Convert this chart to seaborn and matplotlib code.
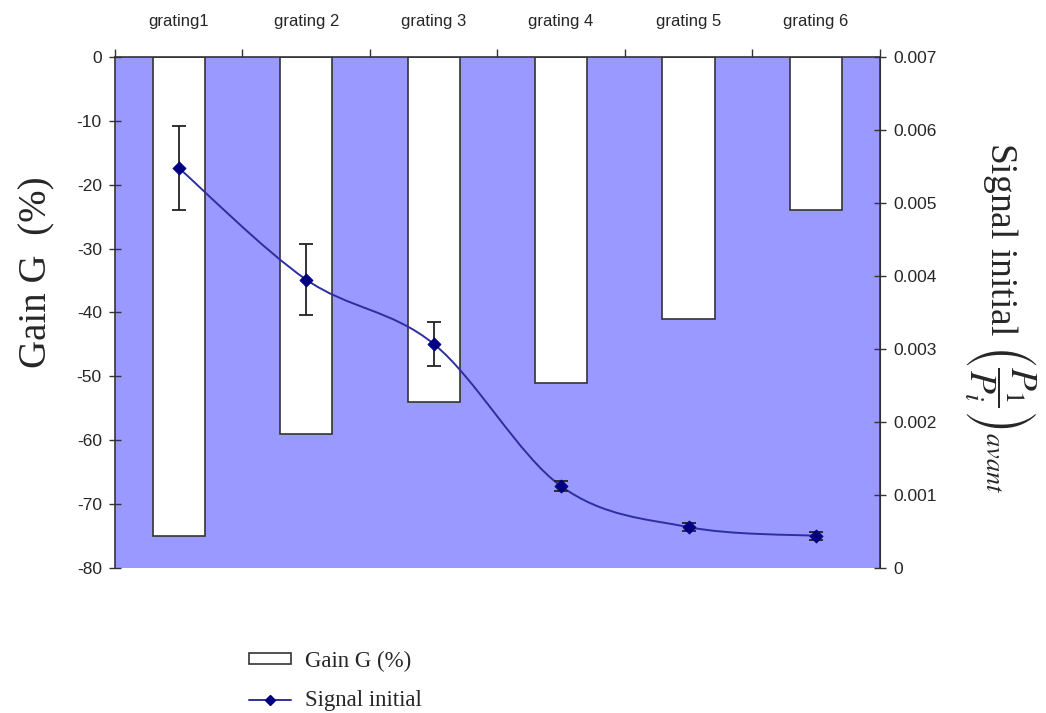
import matplotlib
matplotlib.use("Agg")
import matplotlib.pyplot as plt
import seaborn as sns
import numpy as np
import pandas as pd
from matplotlib.path import Path
from matplotlib.patches import PathPatch, Patch
from matplotlib.lines import Line2D

# data
categories = ["grating1", "grating 2", "grating 3", "grating 4", "grating 5", "grating 6"]
gain = [-75, -59, -54, -51, -41, -24]
signal = [0.00548, 0.00395, 0.00307, 0.00112, 0.00056, 0.00044]
signal_err = [0.00057, 0.00049, 0.00030, 0.00007, 0.00005, 0.00005]

sns.set_style("white")
plt.rcParams["font.family"] = ["Liberation Sans", "DejaVu Sans"]
plt.rcParams["mathtext.fontset"] = "stix"
plt.rcParams["axes.unicode_minus"] = False

fig = plt.figure(figsize=(10.46, 7.13), dpi=100)
ax = fig.add_axes([0.110, 0.2034, 0.731, 0.7167])
ax.set_facecolor("#9999FF")

df = pd.DataFrame({"cat": categories, "gain": gain})
sns.barplot(data=df, x="cat", y="gain", ax=ax, color="white",
            edgecolor="#333333", linewidth=1.2, width=0.41, saturation=1)

ax.set_ylim(-80, 0)
ax.set_xlim(-0.5, len(categories) - 0.5)
ax.set_yticks(np.arange(-80, 1, 10))
ax.xaxis.tick_top()
ax.set_xticks(range(len(categories)))
ax.set_xticklabels(categories, fontsize=12)
ax.tick_params(axis="x", which="major", length=0, pad=20)
ax.set_xticks(np.arange(-0.5, len(categories), 1), minor=True)
ax.tick_params(axis="x", which="minor", direction="out", length=6, width=1, color="#333333", top=True, bottom=False)
ax.tick_params(axis="y", direction="inout", length=9, width=1, labelsize=12.5, color="#333333", pad=5)
ax.set_xlabel("")
ax.set_ylabel("Gain G  (%)", family=["Liberation Serif"], fontsize=28)
ax.yaxis.set_label_coords(-0.078, 0.579)
ax.spines["bottom"].set_visible(False)
for s in ["left", "top"]:
    ax.spines[s].set_color("#333333")
    ax.spines[s].set_linewidth(1.2)

# right axis: initial signal
ax2 = ax.twinx()
ax2.set_ylim(0, 0.007)
ax2.set_yticks(np.arange(0, 0.0071, 0.001))
ax2.set_yticklabels(["0"] + [f"{v:.3f}" for v in np.arange(0.001, 0.0071, 0.001)])
ax2.tick_params(axis="y", direction="inout", length=9, width=1, labelsize=12.5, color="#333333", pad=5)
for s in ["left", "top", "bottom"]:
    ax2.spines[s].set_visible(False)
ax2.spines["right"].set_color("#333333")
ax2.spines["right"].set_linewidth(1.2)

xs = np.arange(len(signal), dtype=float)
pts = np.column_stack([xs, signal])
# smoothed line through the points (bezier segments)
verts = [tuple(pts[0])]
codes = [Path.MOVETO]
n = len(pts)
for i in range(n - 1):
    p0 = pts[max(i - 1, 0)]
    p1 = pts[i]
    p2 = pts[i + 1]
    p3 = pts[min(i + 2, n - 1)]
    c1 = p1 + (p2 - p0) / 6
    c2 = p2 - (p3 - p1) / 6
    verts += [tuple(c1), tuple(c2), tuple(p2)]
    codes += [Path.CURVE4] * 3
ax2.add_patch(PathPatch(Path(verts, codes), facecolor="none", edgecolor="#2E2EA0", linewidth=1.4))

ax2.errorbar(xs, signal, yerr=signal_err, fmt="none", ecolor="#222222", elinewidth=1.3, capsize=5, capthick=1.3)
sns.scatterplot(x=xs, y=signal, ax=ax2, marker="D", s=45, color="#000080", edgecolor="#000080", zorder=5)
ax2.set_xlim(-0.5, len(categories) - 0.5)

ax2.set_ylabel(r"Signal initial $\left(\dfrac{P_1}{P_i}\right)_{avant}$",
               family=["Liberation Serif"], fontsize=27, rotation=270)
ax2.yaxis.set_label_coords(1.207, 0.49)

handles = [Patch(facecolor="white", edgecolor="#333333", linewidth=1.2),
           Line2D([0], [0], color="#2E2EA0", marker="D", markersize=5,
                  markerfacecolor="#000080", markeredgecolor="#000080", linewidth=1.4)]
fig.legend(handles, ["Gain G (%)", "Signal initial"], loc="upper left",
           bbox_to_anchor=(0.229, 0.1), frameon=False,
           prop={"family": "Liberation Serif", "size": 16.5},
           labelspacing=0.8, handlelength=1.85, handleheight=0.35,
           handletextpad=0.6, borderaxespad=0)

fig.savefig("out.png", dpi=100)
